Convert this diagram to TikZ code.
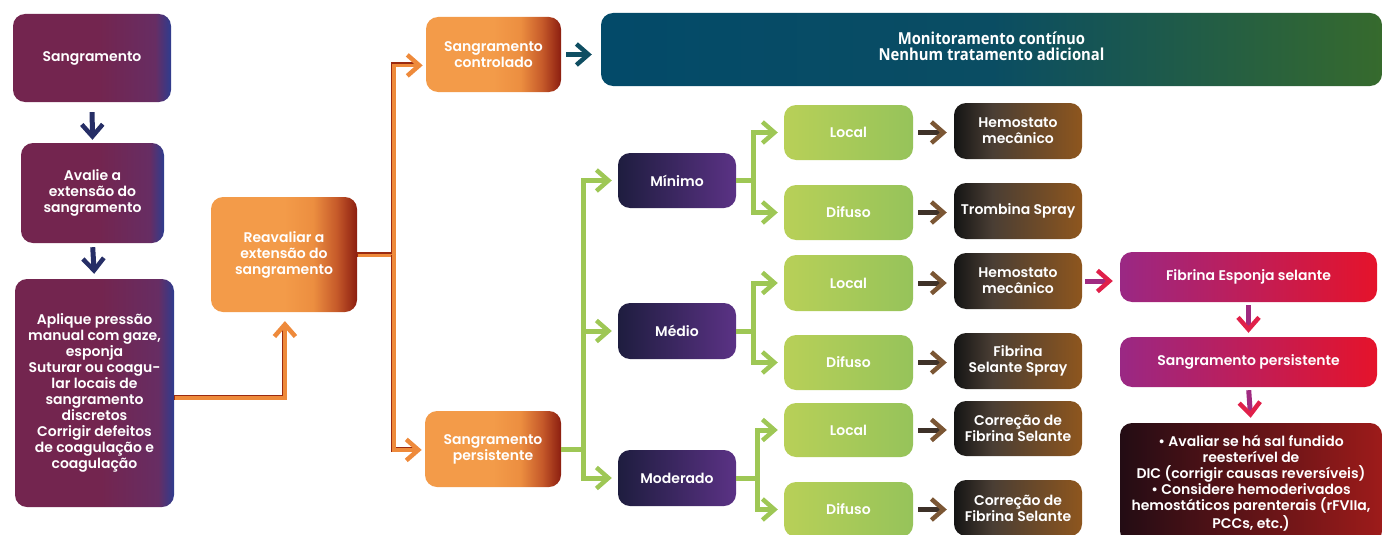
\documentclass[tikz,border=0pt]{standalone}
\usepackage{fontspec}
\setmainfont{Poppins}[BoldFont={Poppins SemiBold}]
\newfontfamily\condfont{Open Sans}[FakeStretch=0.9]
\usetikzlibrary{arrows.meta}

% palette
\definecolor{mrA}{HTML}{73254F}
\definecolor{mrB}{HTML}{672D63}
\definecolor{mrC}{HTML}{2E3C8E}
\definecolor{orA}{HTML}{F39B49}
\definecolor{orB}{HTML}{EC8E40}
\definecolor{orC}{HTML}{C65A2A}
\definecolor{orD}{HTML}{8C1E10}
\definecolor{puA}{HTML}{1E1D3F}
\definecolor{puB}{HTML}{5B3285}
\definecolor{grA}{HTML}{B8D058}
\definecolor{grB}{HTML}{96C35A}
\definecolor{bnA}{HTML}{141414}
\definecolor{bnB}{HTML}{4A3E34}
\definecolor{bnC}{HTML}{8E561E}
\definecolor{tlA}{HTML}{034A69}
\definecolor{tlB}{HTML}{0A4D63}
\definecolor{tlC}{HTML}{366A2D}
\definecolor{pkA}{HTML}{9A2884}
\definecolor{pkB}{HTML}{E5132B}
\definecolor{drA}{HTML}{230C14}
\definecolor{drB}{HTML}{9D1B1A}
\definecolor{navy}{HTML}{262E66}
\definecolor{oLine}{HTML}{EE8A3B}
\definecolor{oEdge}{HTML}{9B2A10}
\definecolor{gLine}{HTML}{9EC755}
\definecolor{teal}{HTML}{0F4E62}
\definecolor{brShaft}{HTML}{3E3128}
\definecolor{brTip}{HTML}{7B5634}
\definecolor{pkShaft}{HTML}{A02A80}
\definecolor{pkTip}{HTML}{E0204A}

% horizontal fills (the 25bp--75bp band spans the box)
\pgfdeclarehorizontalshading{shMaroon}{100bp}{color(0bp)=(mrA); color(25bp)=(mrA); color(52bp)=(mrA); color(70bp)=(mrB); color(75bp)=(mrC); color(100bp)=(mrC)}
\pgfdeclarehorizontalshading{shOrange}{100bp}{color(0bp)=(orA); color(25bp)=(orA); color(50bp)=(orA); color(60bp)=(orB); color(68bp)=(orC); color(75bp)=(orD); color(100bp)=(orD)}
\pgfdeclarehorizontalshading{shPurple}{100bp}{color(0bp)=(puA); color(25bp)=(puA); color(75bp)=(puB); color(100bp)=(puB)}
\pgfdeclarehorizontalshading{shGreen}{100bp}{color(0bp)=(grA); color(25bp)=(grA); color(75bp)=(grB); color(100bp)=(grB)}
\pgfdeclarehorizontalshading{shBrown}{100bp}{color(0bp)=(bnA); color(25bp)=(bnA); color(40bp)=(bnB); color(75bp)=(bnC); color(100bp)=(bnC)}
\pgfdeclarehorizontalshading{shTeal}{100bp}{color(0bp)=(tlA); color(25bp)=(tlA); color(50bp)=(tlB); color(75bp)=(tlC); color(100bp)=(tlC)}
\pgfdeclarehorizontalshading{shPink}{100bp}{color(0bp)=(pkA); color(25bp)=(pkA); color(75bp)=(pkB); color(100bp)=(pkB)}
\pgfdeclarehorizontalshading{shDark}{100bp}{color(0bp)=(drA); color(25bp)=(drA); color(75bp)=(drB); color(100bp)=(drB)}

\tikzset{
  card/.style={rounded corners=12pt, text=white, align=center, inner sep=0pt,
    font=\bfseries\fontsize{14}{16}\selectfont},
  maroonbox/.style={card, shade, shading=shMaroon},
  orangebox/.style={card, shade, shading=shOrange},
  purplebox/.style={card, shade, shading=shPurple},
  greenbox/.style={card, shade, shading=shGreen},
  brownbox/.style={card, shade, shading=shBrown},
  tealbox/.style={card, shade, shading=shTeal},
  bannertext/.style={text=white, align=center, inner sep=0pt,
    font=\condfont\bfseries\fontsize{16.5}{16.5}\selectfont},
  pinkbox/.style={card, shade, shading=shPink},
  darkbox/.style={card, shade, shading=shDark},
  barb/.style={-{Straight Barb[length=12pt,width=21pt,line width=4.5pt,color=#1]}},
  navyarrow/.style={draw=navy, line width=5pt, barb=navy},
  tealarrow/.style={draw=teal, line width=5pt, barb=teal},
  brownarrow/.style={draw=brShaft, line width=5pt, barb=brTip},
  pinkarrow/.style={draw=pkShaft, line width=5pt, barb=pkTip},
  gline/.style={draw=gLine, line width=5pt, barb=gLine, shorten >=6pt},
  oedge/.style={draw=oEdge, line width=5pt},
  otop/.style={draw=oLine, line width=3.6pt, barb=oLine,
    transform canvas={shift={(0.9pt,-0.9pt)}}},
}

\begin{document}
\begin{tikzpicture}[x=1pt, y=-1pt]
\useasboundingbox (0,0) rectangle (1383,535);

% left column
\node[maroonbox, minimum width=158pt, minimum height=88pt] (s1) at (92,58) {Sangramento};
\node[maroonbox, minimum width=143pt, minimum height=100pt] (s2) at (92.5,193) {Avalie a\\extensão do\\sangramento};
\node[maroonbox, minimum width=159pt, minimum height=228pt] (s3) at (94.5,393)
  {Aplique pressão\\manual com gaze,\\esponja\\Suturar ou coagu-\\lar locais de\\sangramento\\discretos\\Corrigir defeitos\\de coagulação e\\coagulação};

% reassessment and its two outcomes
\node[orangebox, minimum width=146pt, minimum height=115pt] (r) at (284,254.5) {Reavaliar a\\extensão do\\sangramento};
\node[orangebox, minimum width=135pt, minimum height=75pt] (sc) at (493.5,54.5) {Sangramento\\controlado};
\node[orangebox, minimum width=136pt, minimum height=76pt] (sp) at (493,449) {Sangramento\\persistente};
\node[tealbox, minimum width=781pt, minimum height=73pt,
  label={[bannertext, yshift=3pt]center:Monitoramento contínuo\\Nenhum tratamento adicional}] (ban) at (991.5,49.5) {};

% severity
\node[purplebox, minimum width=118pt, minimum height=55pt] (min) at (677,180.5) {Mínimo};
\node[purplebox, minimum width=118pt, minimum height=56pt] (med) at (677,331) {Médio};
\node[purplebox, minimum width=118pt, minimum height=56pt] (mod) at (677,478) {Moderado};

% site
\node[greenbox, minimum width=129pt, minimum height=55pt] (L1) at (848.5,132.5) {Local};
\node[greenbox, minimum width=129pt, minimum height=55pt] (D1) at (848.5,212.5) {Difuso};
\node[greenbox, minimum width=129pt, minimum height=56pt] (L2) at (848.5,283) {Local};
\node[greenbox, minimum width=129pt, minimum height=55pt] (D2) at (848.5,362.5) {Difuso};
\node[greenbox, minimum width=129pt, minimum height=54pt] (L3) at (848.5,430) {Local};
\node[greenbox, minimum width=129pt, minimum height=55pt] (D3) at (848.5,509.5) {Difuso};

% treatment
\node[brownbox, minimum width=128pt, minimum height=56pt] (B1) at (1018,131) {Hemostato\\mecânico};
\node[brownbox, minimum width=128pt, minimum height=56pt] (B2) at (1018,211) {Trombina Spray};
\node[brownbox, minimum width=128pt, minimum height=56pt] (B3) at (1018,281) {Hemostato\\mecânico};
\node[brownbox, minimum width=128pt, minimum height=56pt] (B4) at (1018,361) {Fibrina\\Selante Spray};
\node[brownbox, minimum width=128pt, minimum height=55pt] (B5) at (1018,428.5) {Correção de\\Fibrina Selante};
\node[brownbox, minimum width=128pt, minimum height=56pt] (B6) at (1018,508) {Correção de\\Fibrina Selante};

% escalation
\node[pinkbox, minimum width=257pt, minimum height=50pt] (FE) at (1248.5,277) {Fibrina Esponja selante};
\node[pinkbox, minimum width=257pt, minimum height=50pt] (SP2) at (1248.5,362) {Sangramento persistente};
\node[darkbox, minimum width=262pt, minimum height=120pt] (FIN) at (1251,483)
  {• Avaliar se há sal fundido\\reesterível de\\DIC (corrigir causas reversíveis)\\• Considere hemoderivados\\hemostáticos parenterais (rFVIIa,\\PCCs, etc.)};

% trunk positions
\coordinate (ot) at (393,0);
\coordinate (gt) at (583,0);
\coordinate (mt1) at (753,0);
\coordinate (mt2) at (753,0);
\coordinate (mt3) at (757,0);
\coordinate (scin) at ([yshift=-10pt]sc.west);
\coordinate (rin) at ([yshift=-4pt]s3.east);

% left column arrows
\draw[navyarrow, shorten <=10pt, shorten >=3pt] (s1.south) -- (s2.north);
\draw[navyarrow, shorten <=4pt, shorten >=5pt] (s2.south) -- (s3.north);

% orange connectors
\draw[oedge, shorten >=14pt] (rin) -| (r.south);
\draw[otop, shorten >=8pt] (rin) -| (r.south);
\draw[oedge, shorten >=12pt] (r.east) -| (scin -| ot) -- (scin);
\draw[otop, shorten >=4pt] (r.east) -| (scin -| ot) -- (scin);
\draw[oedge, shorten >=12pt] (r.east -| ot) |- (sp.west);
\draw[otop, shorten >=4pt] (r.east -| ot) |- (sp.west);

% controlled bleeding
\draw[tealarrow, shorten <=5pt, shorten >=9pt] (sc.east) -- (sc.east -| ban.west);

% persistent bleeding by severity
\draw[gline] (sp.east) -| (min.west -| gt) -- (min.west);
\draw[gline] (sp.east -| gt) |- (med.west);
\draw[gline] (sp.east -| gt) |- (mod.west);

\draw[gline] (min.east) -| (L1.west -| mt1) -- (L1.west);
\draw[gline] (min.east -| mt1) |- (D1.west);
\draw[gline] (med.east) -| (L2.west -| mt2) -- (L2.west);
\draw[gline] (med.east -| mt2) |- (D2.west);
\draw[gline] (mod.east) -| (L3.west -| mt3) -- (L3.west);
\draw[gline] (mod.east -| mt3) |- (D3.west);

% site to treatment
\foreach \a/\b in {L1/B1, D1/B2, L2/B3, D2/B4, L3/B5, D3/B6}
  \draw[brownarrow, shorten <=5pt, shorten >=7pt] (\a.east) -- (\a.east -| \b.west);

% escalation path
\draw[pinkarrow, shorten <=3pt, shorten >=7pt] (B3.east) -- (B3.east -| FE.west);
\draw[pinkarrow, shorten <=3pt, shorten >=4pt] (FE.south) -- (SP2.north);
\draw[pinkarrow, shorten <=3pt, shorten >=5pt] (SP2.south) -- (FIN.north);
\end{tikzpicture}
\end{document}
